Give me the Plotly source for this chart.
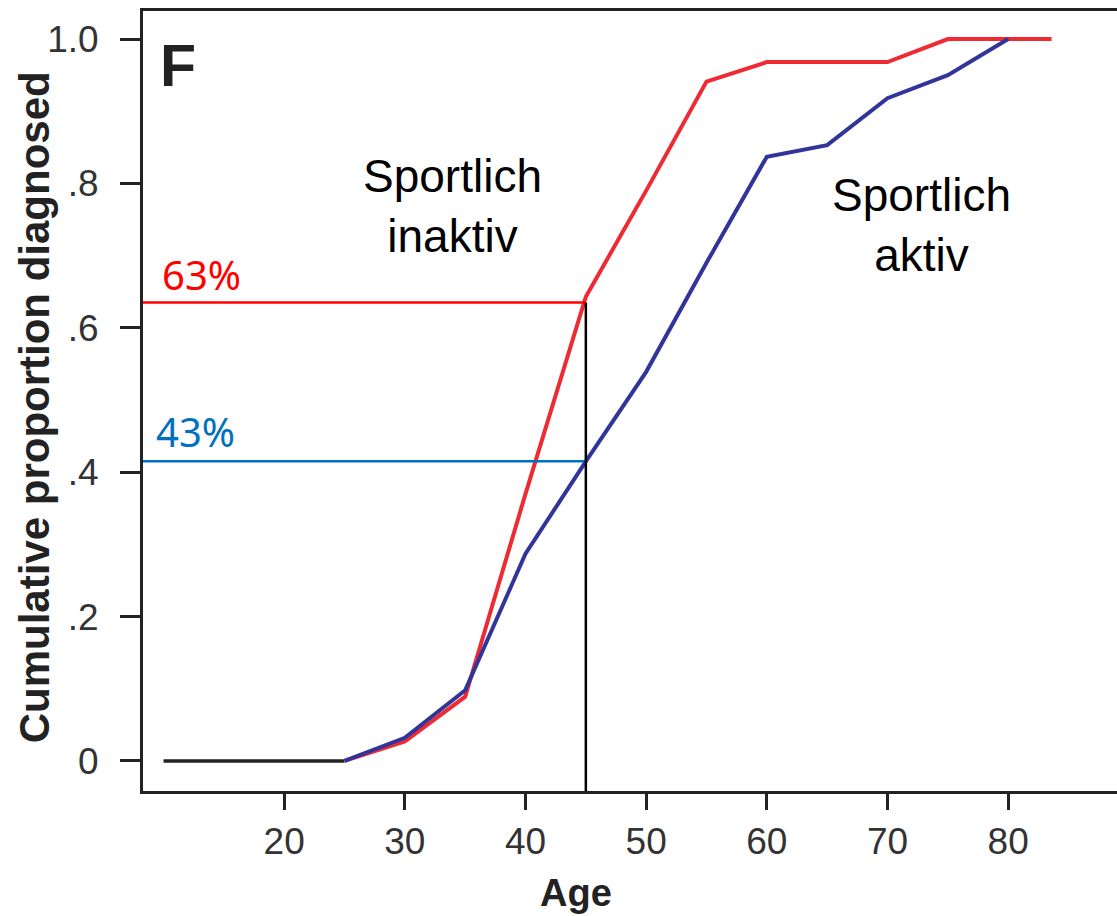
import plotly.graph_objects as go

# ---- data ----
ages = [25, 30, 35, 40, 45, 50, 55, 60, 65, 70, 75, 80]
inactive = [0.0, 0.027, 0.089, 0.37, 0.643, 0.79, 0.941, 0.968, 0.968, 0.968, 1.0, 1.0]
inactive_end_age = 83.6
active = [0.0, 0.032, 0.098, 0.287, 0.415, 0.539, 0.69, 0.837, 0.853, 0.918, 0.95, 1.0]
baseline_ages = [10, 25]
baseline_vals = [0, 0]

marker_age = 45
pct_inactive = 0.635
pct_active = 0.415
label_inactive = "63%"
label_active = "43%"

x_tickvals = [20, 30, 40, 50, 60, 70, 80]
y_tickvals = [0, 0.2, 0.4, 0.6, 0.8, 1.0]
y_ticktext = ["0", ".2", ".4", ".6", ".8", "1.0"]

x_range = [8.30, 89.02]
y_range = [-0.0416, 1.0388]

RED = "#ee2a33"
NAVY = "#31359a"
AX = "#222222"

fig = go.Figure()

fig.add_trace(go.Scatter(x=baseline_ages, y=baseline_vals, mode="lines",
                         line=dict(color=AX, width=3.5), showlegend=False, hoverinfo="skip"))
fig.add_trace(go.Scatter(x=ages + [inactive_end_age], y=inactive + [inactive[-1]], mode="lines",
                         line=dict(color=RED, width=4), name="Sportlich inaktiv", showlegend=False))
fig.add_trace(go.Scatter(x=ages, y=active, mode="lines",
                         line=dict(color=NAVY, width=4), name="Sportlich aktiv", showlegend=False))

# reference lines
fig.add_shape(type="line", xref="x", yref="y", x0=x_range[0], x1=marker_age,
              y0=pct_inactive, y1=pct_inactive, line=dict(color="#ff0000", width=2.5))
fig.add_shape(type="line", xref="x", yref="y", x0=x_range[0], x1=marker_age,
              y0=pct_active, y1=pct_active, line=dict(color="#0070c0", width=2.5))
fig.add_shape(type="line", xref="x", yref="y", x0=marker_age, x1=marker_age,
              y0=y_range[0], y1=pct_inactive, line=dict(color="black", width=2.5))

ann = []
ann.append(dict(x=9.7, y=0.6745, xref="x", yref="y", text=label_inactive, showarrow=False,
                xanchor="left", yanchor="middle",
                font=dict(family="Noto Sans", size=40, color="#ff0000")))
ann.append(dict(x=9.2, y=0.4557, xref="x", yref="y", text=label_active, showarrow=False,
                xanchor="left", yanchor="middle",
                font=dict(family="Noto Sans", size=40, color="#0070c0")))
ann.append(dict(x=33.93, y=0.769, xref="x", yref="y", text="Sportlich<br>inaktiv", showarrow=False,
                xanchor="center", yanchor="middle",
                font=dict(family="Liberation Sans, Arial", size=46, color="black")))
ann.append(dict(x=72.78, y=0.742, xref="x", yref="y", text="Sportlich<br>aktiv", showarrow=False,
                xanchor="center", yanchor="middle",
                font=dict(family="Liberation Sans, Arial", size=46, color="black")))
ann.append(dict(x=0.0157, y=0.9295, xref="paper", yref="paper", text="<b>F</b>", showarrow=False,
                xanchor="left", yanchor="middle",
                font=dict(family="Liberation Sans, Arial", size=59, color=AX)))
ann.append(dict(x=-0.1116, y=0.4923, xref="paper", yref="paper", text="<b>Cumulative proportion diagnosed</b>",
                showarrow=False, textangle=-90, xanchor="center", yanchor="middle",
                font=dict(family="Liberation Sans, Arial", size=42, color=AX)))
ann.append(dict(x=0.4447, y=-0.1314, xref="paper", yref="paper", text="<b>Age</b>", showarrow=False,
                xanchor="center", yanchor="middle",
                font=dict(family="Liberation Sans, Arial", size=38, color=AX)))

fig.update_layout(
    width=1117, height=916,
    margin=dict(l=143, r=0, t=11, b=125),
    paper_bgcolor="white", plot_bgcolor="white",
    annotations=ann,
    showlegend=False,
)
fig.update_xaxes(range=x_range, tickvals=x_tickvals, showgrid=False, zeroline=False,
                 showline=True, linecolor=AX, linewidth=3, mirror=True,
                 ticks="outside", ticklen=16, tickwidth=3, tickcolor=AX,
                 tickfont=dict(family="Liberation Sans, Arial", size=37, color="#333"))
fig.update_yaxes(range=y_range, tickvals=y_tickvals, ticktext=y_ticktext, showgrid=False, zeroline=False,
                 showline=True, linecolor=AX, linewidth=3, mirror=False,
                 ticks="outside", ticklen=20, tickwidth=3, tickcolor=AX, ticklabelstandoff=14,
                 tickfont=dict(family="Liberation Sans, Arial", size=37, color="#333"))

fig.write_html("out.html", config={"displayModeBar": False},
               post_script="document.body.style.margin='0';document.body.style.overflow='hidden';")
